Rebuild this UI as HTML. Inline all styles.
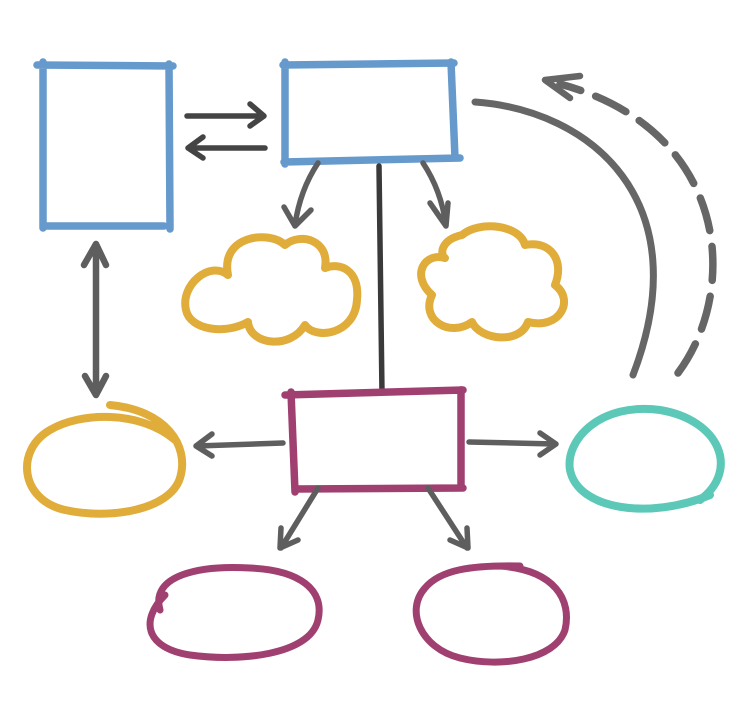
<!DOCTYPE html>
<html><head><meta charset="utf-8"><style>html,body{margin:0;padding:0;background:#fff}svg{display:block}</style></head>
<body>
<svg width="750" height="727" viewBox="0 0 750 727" xmlns="http://www.w3.org/2000/svg" fill="none" stroke-linecap="round" stroke-linejoin="round">
<!-- blue rects -->
<g stroke="#6699cc" stroke-width="7.5">
<path d="M37 65 L173 66 M43 62 L43 228 M169 64 L170 229 M44 226 L164 226"/>
<path d="M283 65 L454 63 M285 62 L285 164 M451 62 L455 158 M284 162 L460 158"/>
</g>
<!-- arrows between rects -->
<g stroke="#444" stroke-width="5.5">
<path d="M187 116 L263 116 M250 104 L264 116 L250 126"/>
<path d="M265 148 L188 148 M203 137 L188 148 L203 158"/>
</g>
<!-- vertical line -->
<path d="M379 166 L382 393" stroke="#3a3a3a" stroke-width="5.5"/>
<!-- arrows to clouds -->
<g stroke="#5e5e5e" stroke-width="5.5">
<path d="M318 163 Q300 190 295 225 M284 207 L295 226 L311 210"/>
<path d="M423 163 Q441 190 446 225 M430 203 L446 226 L448 203"/>
</g>
<!-- clouds -->
<g stroke="#e0ac3a" stroke-width="8">
<path d="M228 275 C210 260 180 285 186 310 C190 330 225 335 248 322 C250 345 290 350 305 325 C315 340 355 335 357 300 C360 270 340 262 325 268 C330 240 300 232 285 245 C270 230 220 235 228 275 Z"/>
<path d="M445 258 C425 252 410 275 432 295 C420 320 450 338 472 322 C480 340 520 345 528 322 C560 330 575 300 555 285 C565 260 550 240 525 245 C520 225 480 220 462 235 C440 240 440 255 445 258 Z"/>
</g>
<!-- big gray curve -->
<path d="M475 102 C590 110 700 200 633 375" stroke="#666" stroke-width="7"/>
<!-- dashed curve -->
<path d="M678 373 C740 290 730 130 560 84" stroke="#666" stroke-width="7.5" stroke-dasharray="34 16"/>
<path d="M570 98 L545 80 L580 76" stroke="#666" stroke-width="6.5"/>
<!-- double arrow -->
<g stroke="#5e5e5e" stroke-width="6.5">
<path d="M96 244 L96 394 M84 265 L96 244 L106 265 M85 376 L96 395 L106 376"/>
</g>
<!-- purple rect -->
<g stroke="#a04070" stroke-width="7.5">
<path d="M285 395 L463 390 M291 392 L295 492 M461 390 L461 488 M295 489 L463 488"/>
</g>
<!-- arrows from purple rect -->
<g stroke="#5e5e5e" stroke-width="5.5">
<path d="M283 443 L197 446 M212 434 L196 446 L212 456"/>
<path d="M469 442 L555 444 M540 433 L556 444 L540 455"/>
<path d="M318 488 L281 548 M281 528 L280 548 L298 540"/>
<path d="M428 488 L467 548 M450 540 L468 548 L467 528"/>
</g>
<!-- yellow ellipse -->
<path d="M110 405 C165 410 190 445 180 478 C170 510 110 520 65 510 C20 500 15 450 50 430 C80 412 140 410 175 440" stroke="#e0ac3a" stroke-width="8"/>
<!-- teal ellipse -->
<path d="M700 500 C740 470 720 420 660 410 C600 402 565 440 570 470 C578 510 650 520 710 495" stroke="#5cc8b8" stroke-width="8"/>
<!-- purple ellipses -->
<path d="M160 610 C150 575 200 565 250 568 C300 570 325 590 318 620 C310 655 240 662 190 655 C145 648 140 620 165 595" stroke="#a04070" stroke-width="7"/>
<path d="M500 566 C555 570 572 600 565 630 C555 660 500 668 460 658 C420 648 405 610 425 588 C440 570 470 565 520 566" stroke="#a04070" stroke-width="7"/>
</svg>
</body></html>
